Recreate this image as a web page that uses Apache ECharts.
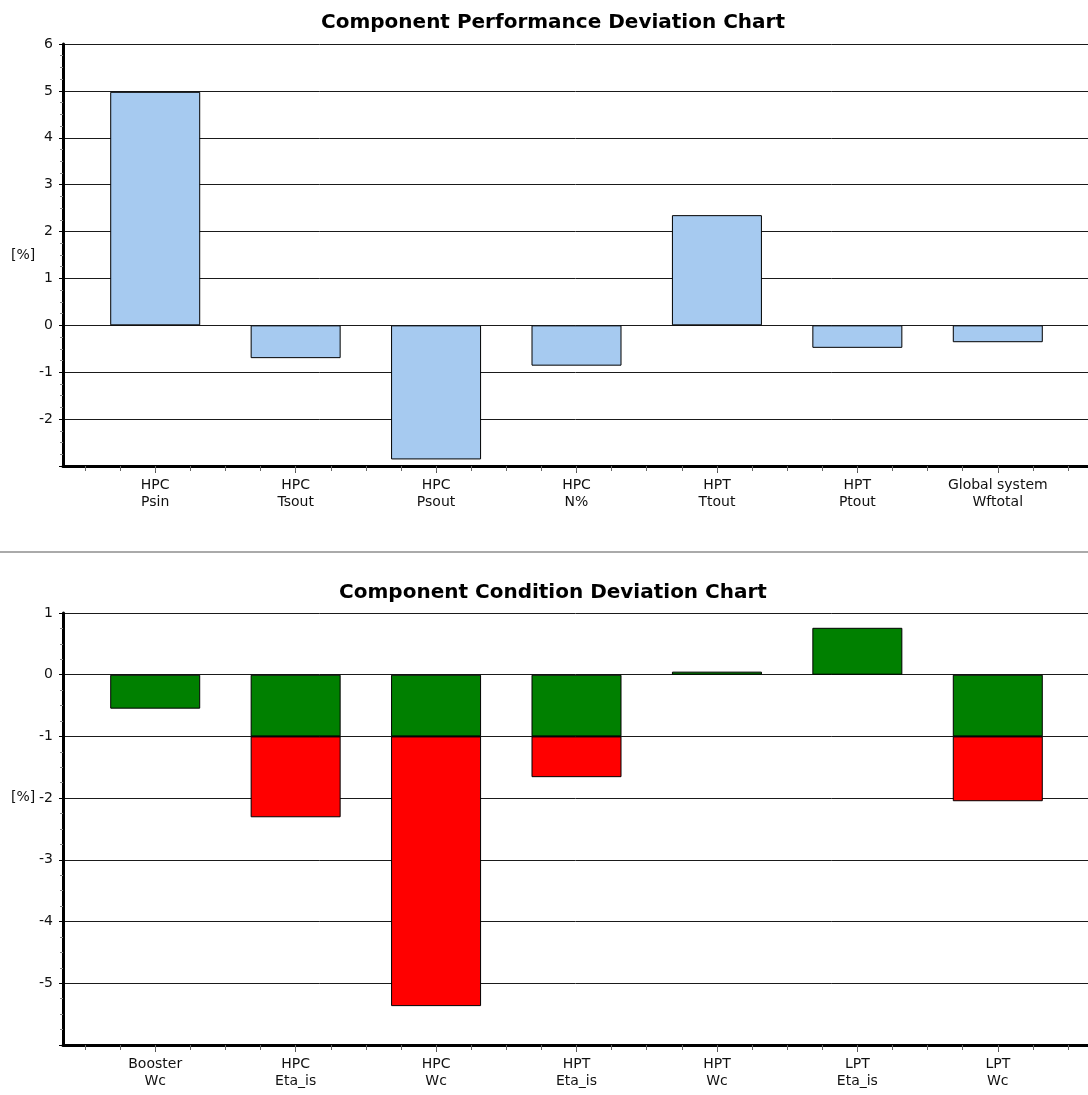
<!DOCTYPE html>
<html>
<head>
<meta charset="utf-8">
<script src="https://cdn.jsdelivr.net/npm/echarts@6/dist/echarts.min.js"></script>
<style>
html,body{margin:0;padding:0;background:#fff;}
#chart{width:1088px;height:1095px;}
</style>
</head>
<body>
<div id="chart"></div>
<script>
// ---- Top chart data ----
const perfTitle = 'Component Performance Deviation Chart';
const perfComponents = ['HPC', 'HPC', 'HPC', 'HPC', 'HPT', 'HPT', 'Global system'];
const perfParams = ['Psin', 'Tsout', 'Psout', 'N%', 'Ttout', 'Ptout', 'Wftotal'];
const perfValues = [4.98, -0.70, -2.86, -0.86, 2.35, -0.48, -0.36];
const perfYMin = -3, perfYMax = 6;

// ---- Bottom chart data ----
const condTitle = 'Component Condition Deviation Chart';
const condComponents = ['Booster', 'HPC', 'HPC', 'HPT', 'HPT', 'LPT', 'LPT'];
const condParams = ['Wc', 'Eta_is', 'Wc', 'Eta_is', 'Wc', 'Eta_is', 'Wc'];
const condGreen = [-0.55, -1, -1, -1, 0.05, 0.76, -1];
const condRed = [null, -1.31, -4.37, -0.66, null, null, -1.05];
const condYMin = -6, condYMax = 1;

const unitLabel = '[%]';

const perfCats = perfComponents.map((c, i) => c + '\n' + perfParams[i]);
const condCats = condComponents.map((c, i) => c + '\n' + condParams[i]);
const minorCats = new Array(perfCats.length * 4).fill('');

const FONT = '"DejaVu Sans", sans-serif';

function frameX(gi) {
  return {
    type: 'value', gridIndex: gi, min: 0, max: 1, position: 'bottom',
    axisLine: { show: true, onZero: false, lineStyle: { color: '#000', width: 3 } },
    axisTick: { show: false }, axisLabel: { show: false }, splitLine: { show: false }
  };
}
function catX(gi, cats) {
  return {
    type: 'category', gridIndex: gi, data: cats, position: 'bottom', offset: 0,
    axisLine: { show: false, onZero: false },
    axisTick: { show: true, alignWithLabel: true, length: 7, lineStyle: { color: '#555' } },
    axisLabel: { show: true, interval: 0, margin: 11, color: '#111', fontFamily: FONT, fontSize: 14, lineHeight: 17 },
    splitLine: { show: false }
  };
}
function minorX(gi) {
  return {
    type: 'category', gridIndex: gi, data: minorCats, position: 'bottom', offset: 0,
    axisLine: { show: false, onZero: false },
    axisTick: { show: true, interval: 0, length: 5, lineStyle: { color: '#666' } },
    axisLabel: { show: false }, splitLine: { show: false }
  };
}
function frameY(gi, mn, mx) {
  return {
    type: 'value', gridIndex: gi, min: mn, max: mx, interval: 1,
    axisLine: { show: true, onZero: false, lineStyle: { color: '#000', width: 3 } },
    axisTick: { show: true, length: 4, lineStyle: { color: '#000' } },
    minorTick: { show: true, splitNumber: 4, length: 3, lineStyle: { color: '#888' } },
    axisLabel: { show: true, margin: 10, color: '#111', fontFamily: FONT, fontSize: 14, showMinLabel: false, showMaxLabel: true },
    splitLine: { show: true, lineStyle: { color: '#1a1a1a', width: 1 } }
  };
}
function hiddenY(gi, mn, mx) {
  return { type: 'value', gridIndex: gi, min: mn, max: mx, show: false, splitLine: { show: false } };
}

const chart = echarts.init(document.getElementById('chart'), null, { renderer: 'canvas' });
chart.setOption({
  animation: false,
  backgroundColor: '#fff',
  grid: [
    { left: 63, right: 0, top: 44, height: 422 },
    { left: 85, right: 20, top: 44, height: 422 },
    { left: 63, right: 0, top: 613, height: 432 },
    { left: 85, right: 20, top: 613, height: 432 }
  ],
  xAxis: [
    frameX(0), catX(1, perfCats), minorX(1),
    frameX(2), catX(3, condCats), minorX(3)
  ],
  yAxis: [
    frameY(0, perfYMin, perfYMax), hiddenY(1, perfYMin, perfYMax),
    frameY(2, condYMin, condYMax), hiddenY(3, condYMin, condYMax)
  ],
  series: [
    {
      type: 'bar', xAxisIndex: 1, yAxisIndex: 1, data: perfValues, barWidth: 90,
      itemStyle: { color: '#A6CAF0', borderColor: '#000', borderWidth: 1 }
    },
    {
      type: 'bar', xAxisIndex: 4, yAxisIndex: 3, data: condGreen, barWidth: 90, stack: 'cond',
      itemStyle: { color: '#008000', borderColor: '#000', borderWidth: 1 }
    },
    {
      type: 'bar', xAxisIndex: 4, yAxisIndex: 3, data: condRed, barWidth: 90, stack: 'cond',
      itemStyle: { color: '#FF0000', borderColor: '#000', borderWidth: 1 }
    }
  ],
  graphic: [
    { type: 'text', x: 553, y: 23, style: { text: perfTitle, font: 'bold 20px ' + FONT, fill: '#000', align: 'center', verticalAlign: 'middle' } },
    { type: 'text', x: 553, y: 593, style: { text: condTitle, font: 'bold 20px ' + FONT, fill: '#000', align: 'center', verticalAlign: 'middle' } },
    { type: 'text', x: 11, y: 255, style: { text: unitLabel, font: '14px ' + FONT, fill: '#111', align: 'left', verticalAlign: 'middle' } },
    { type: 'text', x: 11, y: 797, style: { text: unitLabel, font: '14px ' + FONT, fill: '#111', align: 'left', verticalAlign: 'middle' } },
    { type: 'line', shape: { x1: 0, y1: 552, x2: 1088, y2: 552 }, style: { stroke: '#aaa', lineWidth: 2 } }
  ]
});
</script>
</body>
</html>
